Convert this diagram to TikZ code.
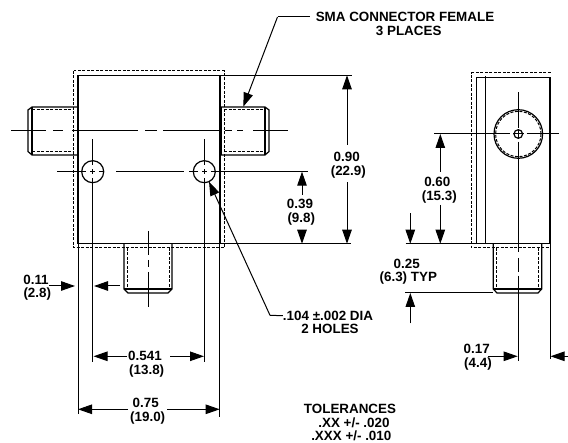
\documentclass[tikz,border=0pt]{standalone}
\usepackage{xcolor}
\usepackage{fontspec}
\setmainfont{Liberation Sans}
\usetikzlibrary{arrows.meta}
\tikzset{
  lbl/.style={font=\bfseries\fontsize{13.4}{13.4}\selectfont, inner sep=0pt},
  outline/.style={line width=1.2pt},
  hidden/.style={line width=1pt, dash pattern=on 3pt off 1.5pt},
  thin line/.style={line width=1pt},
  dim/.style={line width=1pt, -{Triangle[length=14pt,width=9.5pt]}}
}
\begin{document}
\begin{tikzpicture}[x=1pt, y=-1pt]
            \useasboundingbox (0, 0) rectangle (568, 443);
            % front view
            \draw[hidden] (73.5, 71) rectangle (224, 248);
            \draw[outline] (78, 75.3) rectangle (220, 243.7);
            % left connector
            \draw[outline] (78, 107) -- (32, 107) -- (28, 110) -- (28, 151.5) -- (32, 155) -- (78, 155);
            \draw[outline] (32, 107) -- (32, 155);
            \draw[hidden] (32, 109.5) -- (74, 109.5);
            \draw[hidden] (32, 152) -- (74, 152);
            % right connector
            \draw[outline] (220, 107) -- (265, 107) -- (269, 110) -- (269, 151.5) -- (265, 155) -- (220, 155);
            \draw[outline] (265, 107) -- (265, 155);
            \draw[outline] (221, 107) -- (221, 155);
            \draw[hidden] (224, 109.5) -- (265, 109.5);
            \draw[hidden] (224, 152) -- (265, 152);
            % bottom connector
            \draw[outline] (124, 244) -- (124, 289) -- (128, 293) -- (168, 293) -- (172, 289) -- (172, 244);
            \draw[outline] (124, 289) -- (172, 289);
            \draw[hidden] (127, 248) -- (127, 289);
            \draw[hidden] (169, 248) -- (169, 289);
            % center lines
            \foreach \a/\b in {11/46, 53/63, 72/138, 145/157, 163/220, 225/232, 237/243, 253/288}
                \draw[thin line] (\a, 130.3) -- (\b, 130.3);
            \foreach \a/\b in {57/86, 90/95, 99/104, 116/184, 189/198, 202/207, 211/308}
                \draw[thin line] (\a, 171.7) -- (\b, 171.7);
            \foreach \a/\b in {231/255, 260/267, 272/307}
                \draw[thin line] (148, \a) -- (148, \b);
            % holes
            \node[circle, draw, outline, minimum size=22pt, inner sep=0pt] at (92.7, 171.7) (holea) {};
            \node[circle, draw, outline, minimum size=22pt, inner sep=0pt] at (204.3, 171.7) (holeb) {};
            \foreach \x in {92.7, 204.3} {
                \draw[thin line] (\x, 139.5) -- (\x, 165);
                \draw[thin line] (\x, 169) -- (\x, 174.5);
                \draw[thin line] (\x, 178) -- (\x, 362.5);
            }
            % extension lines
            \draw[thin line] (78, 244) -- (78, 414);
            \draw[thin line] (219.7, 244) -- (219.7, 416.7);
            \draw[thin line] (220, 75.3) -- (351.7, 75.3);
            \draw[thin line] (220, 243.7) -- (351, 243.7);
            % side view
            \draw[hidden] (550.7, 73) -- (471.3, 73) -- (471.3, 247.7) -- (550.7, 247.7);
            \draw[outline] (476.3, 77.3) rectangle (550, 243.7);
            \draw[outline] (485.7, 76) -- (485.7, 243.7);
            \node[circle, draw, outline, minimum size=48.6pt, inner sep=0pt] at (518.3, 134) (port) {};
            \draw[hidden] (518.3, 134) circle (22.7pt);
            \node[circle, draw, outline, minimum size=8.6pt, inner sep=0pt] at (518.3, 134) (pin) {};
            \draw[thin line] (434.3, 134) -- (510, 134);
            \draw[thin line] (513, 134) -- (523.6, 134);
            \draw[thin line] (526.7, 134) -- (559.3, 134);
            \foreach \a/\b in {92.3/128, 130/138, 141.7/252, 258/272, 275.7/361}
                \draw[thin line] (518.3, \a) -- (518.3, \b);
            % side view connector
            \draw[outline] (493.3, 244) -- (493.3, 289) -- (497, 293) -- (538, 293) -- (541.7, 289) -- (541.7, 244);
            \draw[outline] (493.3, 289) -- (541.7, 289);
            \draw[hidden] (496.7, 248) -- (496.7, 289);
            \draw[hidden] (538.3, 248) -- (538.3, 289);
            \draw[thin line] (405.7, 243.7) -- (476, 243.7);
            \draw[thin line] (405, 292.7) -- (493.3, 292.7);
            \draw[thin line] (550, 244) -- (550, 359.3);
            % labels
            \node[lbl] at (405, 17) (sma) {SMA CONNECTOR FEMALE};
            \node[lbl] at (408.7, 31) (places) {3 PLACES};
            \node[lbl] at (346.7, 157.3) (topa) {0.90};
            \node[lbl] at (348.3, 171.7) (topb) {(22.9)};
            \node[lbl] at (300, 204.3) (centera) {0.39};
            \node[lbl] at (301.3, 219) (centerb) {(9.8)};
            \node[lbl] at (437.3, 182.3) (porta) {0.60};
            \node[lbl] at (439.3, 196.7) (portb) {(15.3)};
            \node[lbl] at (406.7, 264.3) (typa) {0.25};
            \node[lbl] at (408.3, 278.3) (typb) {(6.3) TYP};
            \node[lbl] at (36, 280) (edgea) {0.11};
            \node[lbl] at (37.3, 294) (edgeb) {(2.8)};
            \node[lbl] at (328, 315.7) (dia) {.104 ±.002 DIA};
            \node[lbl] at (330, 329.3) (holes) {2 HOLES};
            \node[lbl] at (145, 356.3) (pitcha) {0.541};
            \node[lbl] at (146.7, 370.7) (pitchb) {(13.8)};
            \node[lbl] at (145.7, 403) (widtha) {0.75};
            \node[lbl] at (147.7, 418) (widthb) {(19.0)};
            \node[lbl] at (476.7, 349) (sidea) {0.17};
            \node[lbl] at (478, 363.7) (sideb) {(4.4)};
            \node[lbl] at (350, 408.5) (tola) {TOLERANCES};
            \node[lbl] at (354, 422.5) (tolb) {.XX +/- .020};
            \node[lbl] at (351.3, 435.5) (tolc) {.XXX +/- .010};
            % leaders
            \draw[thin line] (sma.west) ++(-6, 0) coordinate (smatail) -- (277.5, 17) coordinate (smabend);
            \draw[dim] (smabend) -- (243.3, 106.7);
            \draw[thin line] (dia.west) -- (270, 315.3) coordinate (diabend);
            \draw[dim] (diabend) -- (209, 181.7);
            % dimension arrows
            \draw[dim] (347, 145) -- (347, 75.3);
            \draw[dim] (347, 182.3) -- (347, 243.7);
            \draw[dim] (302, 195) -- (302, 171.7);
            \draw[dim] (302, 230) -- (302, 243.7);
            \draw[dim] (440.3, 171.7) -- (440.3, 134);
            \draw[dim] (440.3, 205) -- (440.3, 243.7);
            \draw[dim] (410.3, 213.3) -- (410.3, 243.7);
            \draw[dim] (410.3, 323.3) -- (410.3, 293);
            \draw[dim] (49, 286) -- (75, 286);
            \draw[dim] (120, 286) -- (94, 286);
            \draw[dim] (126.7, 356.3) -- (93.5, 356.3);
            \draw[dim] (170, 356.3) -- (204, 356.3);
            \draw[dim] (128, 409.3) -- (78, 409.3);
            \draw[dim] (167, 409.3) -- (219.7, 409.3);
            \draw[dim] (488.3, 356.3) -- (517.7, 356.3);
            \draw[dim] (568, 356.3) -- (550.5, 356.3);
        \end{tikzpicture}
\end{document}
